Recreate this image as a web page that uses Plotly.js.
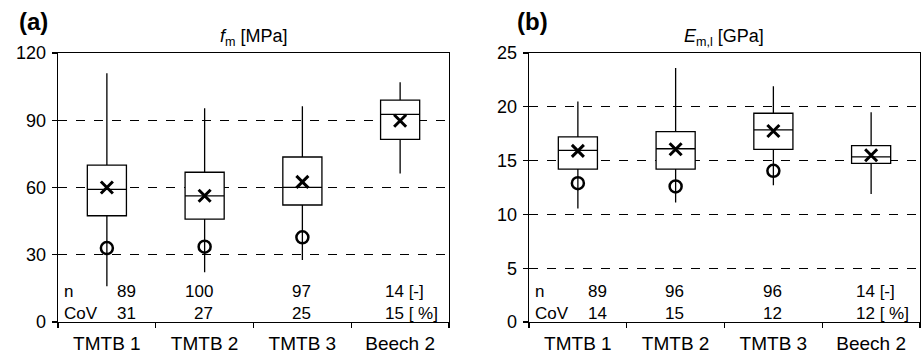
<!DOCTYPE html>
<html>
<head>
<meta charset="utf-8">
<script src="https://cdn.plot.ly/plotly-3.0.1.min.js"></script>
<style>html,body{margin:0;padding:0;background:#fff;}#chart{width:923px;height:360px;}</style>
</head>
<body>
<div id="chart"></div>
<script>
// ---- data ----
var categories = ['TMTB 1', 'TMTB 2', 'TMTB 3', 'Beech 2'];

// (a) bending strength f_m [MPa]
var fmUpper  = [111, 95.3, 96.3, 107];
var fmQ3     = [70, 66.8, 73.6, 99];
var fmMedian = [59.2, 56.3, 60.1, 92.6];
var fmQ1     = [47.4, 45.9, 52.2, 81.5];
var fmLower  = [16, 22.2, 27.7, 66.2];
var fmMean   = [60, 56.3, 62.5, 89.8];
var fmChar   = [33, 33.6, 37.8, null];
var fmN      = [89, 100, 97, 14];
var fmCoV    = [31, 27, 25, 15];

// (b) MOE E_m,l [GPa]
var emUpper  = [20.5, 23.6, 21.9, 19.5];
var emQ3     = [17.2, 17.7, 19.4, 16.4];
var emMedian = [15.95, 16.1, 17.85, 15.35];
var emQ1     = [14.2, 14.2, 16.05, 14.75];
var emLower  = [10.55, 11.1, 12.7, 11.9];
var emMean   = [15.9, 16.05, 17.75, 15.5];
var emChar   = [12.9, 12.6, 14.05, null];
var emN      = [89, 96, 96, 14];
var emCoV    = [14, 15, 12, 12];

var yTicksA = [0, 30, 60, 90, 120];
var yTicksB = [0, 5, 10, 15, 20, 25];

// ---- styling ----
var FONT = 'Liberation Sans, Arial, Helvetica, sans-serif';

function boxTrace(xa, ya, q1, med, q3, lo, hi) {
  return {
    type: 'box', xaxis: xa, yaxis: ya, x: categories,
    q1: q1, median: med, q3: q3, lowerfence: lo, upperfence: hi,
    boxpoints: false, width: 0.4, whiskerwidth: 0,
    fillcolor: '#ffffff', line: {color: '#000', width: 1.3},
    hoverinfo: 'skip', showlegend: false
  };
}
function meanTrace(xa, ya, vals) {
  return {
    type: 'scatter', mode: 'markers', xaxis: xa, yaxis: ya, x: categories, y: vals,
    marker: {symbol: 'x-thin', size: 12, color: '#000', line: {color: '#000', width: 3}},
    showlegend: false, hoverinfo: 'skip'
  };
}
function charTrace(xa, ya, vals) {
  return {
    type: 'scatter', mode: 'markers', xaxis: xa, yaxis: ya, x: categories, y: vals,
    marker: {symbol: 'circle-open', size: 12, color: '#000', line: {color: '#000', width: 2.5}},
    showlegend: false, hoverinfo: 'skip'
  };
}

var data = [
  boxTrace('x', 'y', fmQ1, fmMedian, fmQ3, fmLower, fmUpper),
  charTrace('x', 'y', fmChar),
  meanTrace('x', 'y', fmMean),
  boxTrace('x2', 'y2', emQ1, emMedian, emQ3, emLower, emUpper),
  charTrace('x2', 'y2', emChar),
  meanTrace('x2', 'y2', emMean)
];

function xAxis(dom, anchor) {
  return {
    domain: dom, anchor: anchor, type: 'category', range: [-0.5, 3.5],
    showline: true, linecolor: '#000', linewidth: 1.3, mirror: true,
    ticks: 'outside', tickson: 'boundaries', ticklen: 5, tickwidth: 1.3, tickcolor: '#000',
    showgrid: false, zeroline: false, fixedrange: true,
    tickfont: {family: FONT, size: 19, color: '#000'}, ticklabelstandoff: 4
  };
}
function yAxis(anchor, maxv, tv) {
  return {
    domain: [0, 1], anchor: anchor, range: [0, maxv], tickvals: tv,
    showline: true, linecolor: '#000', linewidth: 1.3, mirror: true,
    ticks: 'outside', ticklen: 5, tickwidth: 1.3, tickcolor: '#000',
    showgrid: true, gridcolor: '#000', gridwidth: 1, griddash: 'dash',
    zeroline: false, fixedrange: true,
    tickfont: {family: FONT, size: 18, color: '#000'}, ticklabelstandoff: 2
  };
}

var annotations = [];
// panel letters and titles
annotations.push({xref: 'paper', yref: 'paper', x: -0.047, y: 1.0, yshift: 32, xanchor: 'left', yanchor: 'middle',
  text: '<b>(a)</b>', showarrow: false, font: {family: FONT, size: 24, color: '#000'}});
annotations.push({xref: 'paper', yref: 'paper', x: 0.5302, y: 1.0, yshift: 32, xanchor: 'left', yanchor: 'middle',
  text: '<b>(b)</b>', showarrow: false, font: {family: FONT, size: 24, color: '#000'}});
annotations.push({xref: 'x domain', yref: 'y domain', x: 0.5, y: 1, yshift: 16, xanchor: 'center', yanchor: 'middle',
  text: '<i>f</i><sub>m</sub> [MPa]', showarrow: false, font: {family: FONT, size: 18, color: '#000'}});
annotations.push({xref: 'x2 domain', yref: 'y2 domain', x: 0.5, y: 1, yshift: 16, xanchor: 'center', yanchor: 'middle',
  text: '<i>E</i><sub>m,l</sub> [GPa]', showarrow: false, font: {family: FONT, size: 18, color: '#000'}});

// n / CoV rows
var colShift = [31, 10, 11, -17];
function statRows(xr, yr, nVals, covVals) {
  var f = {family: FONT, size: 17, color: '#000'};
  annotations.push({xref: xr + ' domain', yref: yr + ' domain', x: 0, xshift: 4, y: 0.112, xanchor: 'left', yanchor: 'middle',
    text: 'n', showarrow: false, font: f});
  annotations.push({xref: xr + ' domain', yref: yr + ' domain', x: 0, xshift: 4, y: 0.03, xanchor: 'left', yanchor: 'middle',
    text: 'CoV', showarrow: false, font: f});
  for (var i = 0; i < categories.length; i++) {
    var last = (i === categories.length - 1);
    annotations.push({xref: xr, yref: yr + ' domain', x: categories[i], xshift: colShift[i], y: 0.112,
      xanchor: last ? 'left' : 'right', yanchor: 'middle',
      text: nVals[i] + (last ? ' [-]' : ''), showarrow: false, font: f});
    annotations.push({xref: xr, yref: yr + ' domain', x: categories[i], xshift: colShift[i], y: 0.03,
      xanchor: last ? 'left' : 'right', yanchor: 'middle',
      text: covVals[i] + (last ? ' [ %]' : ''), showarrow: false, font: f});
  }
}
statRows('x', 'y', fmN, fmCoV);
statRows('x2', 'y2', emN, emCoV);

var layout = {
  width: 923, height: 360,
  margin: {l: 58, r: 3, t: 53, b: 38},
  paper_bgcolor: '#fff', plot_bgcolor: '#fff',
  font: {family: FONT, color: '#000'},
  showlegend: false,
  xaxis: xAxis([0, 0.4536], 'y'),
  yaxis: yAxis('x', 120, yTicksA),
  xaxis2: xAxis([0.5464, 1], 'y2'),
  yaxis2: yAxis('x2', 25, yTicksB),
  annotations: annotations
};

Plotly.newPlot('chart', data, layout, {staticPlot: true, displayModeBar: false});
</script>
</body>
</html>
